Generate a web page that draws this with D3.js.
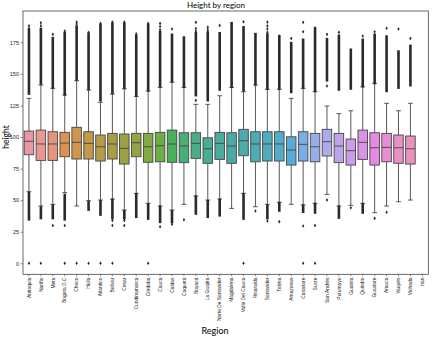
<!DOCTYPE html>
<html>
<head>
<meta charset="utf-8">
<script src="https://cdn.jsdelivr.net/npm/d3@7"></script>
<style>
  body { margin: 0; background: #fff; }
  svg { display: block; }
</style>
</head>
<body>
<svg width="433" height="337"></svg>
<script>
// categories on the x axis (last one has no data)
var regions = ["Antioquia", "Nariño", "Meta", "Bogota D.C", "Choco", "Huila", "Atlantico", "Bolivar",
  "Cesar", "Cundinamarca", "Córdoba", "Cauca", "Caldas", "Caquetá", "Boyacá", "La Guajira",
  "Norte De Santander", "Magdalena", "Valle Del Cauca", "Risaralda", "Santander", "Tolima",
  "Amazonas", "Casanare", "Sucre", "San Andrés", "Putumayo", "Guainía", "Quindío", "Guaviare",
  "Arauca", "Vaupés", "Vichada", "nan"];

// box statistics, one per region
var q1 = [86.0, 81.5, 81.5, 84.4, 82.6, 82.6, 81.0, 82.6, 78.6, 84.4, 80.0, 80.4, 80.0, 79.7, 83.1, 79.2,
  82.3, 79.2, 85.2, 80.4, 81.0, 81.0, 77.8, 81.0, 80.4, 85.0, 79.7, 77.8, 82.3, 77.8, 80.4, 79.2, 78.6, null];
var median = [96.6, 94.5, 94.5, 95.2, 95.8, 95.0, 92.3, 94.5, 91.0, 95.5, 92.3, 93.1, 94.5, 92.9, 95.0, 90.7,
  95.0, 92.9, 97.1, 94.5, 94.5, 94.5, 89.7, 94.2, 92.3, 96.3, 92.9, 89.2, 95.8, 91.5, 91.8, 91.5, 90.7, null];
var q3 = [104.7, 105.5, 104.2, 103.7, 107.7, 104.2, 101.6, 102.9, 102.4, 102.9, 102.9, 103.7, 105.5, 103.4, 103.4, 99.4,
  103.7, 103.4, 106.1, 104.2, 104.2, 104.2, 100.2, 104.2, 102.9, 106.1, 102.9, 98.4, 105.5, 103.4, 102.9, 101.6, 100.8, null];
var whiskerLow = [56.7, 45.4, 46.7, 56.0, 45.4, 49.6, 50.1, 50.9, 42.2, 55.4, 47.5, 45.4, 42.2, 46.7, 53.3, 50.1,
  50.9, 43.5, 55.4, 44.8, 46.7, 48.3, 46.7, 46.2, 47.5, 54.6, 45.4, 45.9, 47.5, 40.1, 45.4, 48.8, 50.1, null];
var whiskerHigh = [130.6, 141.2, 138.6, 133.3, 144.6, 137.2, 127.5, 134.0, 138.2, 132.2, 136.4, 139.3, 143.5, 139.3, 125.9, 125.9,
  132.7, 139.3, 135.9, 141.2, 137.8, 137.8, 130.6, 138.6, 135.9, 124.5, 118.5, 120.8, 139.8, 142.5, 126.7, 120.8, 126.7, null];

// dense runs of outliers above the whiskers [from, to]
var upperRuns = [[134.6, 184.7], [142.5, 185.3], [139.3, 178.1], [134.0, 182.0], [145.7, 187.3], [138.2, 181.5],
  [129.3, 188.5], [135.1, 189.5], [139.3, 189.5], [133.0, 180.0], [137.2, 188.5], [140.4, 183.0], [144.3, 180.8],
  [140.0, 178.6], [133.3, 182.0], [129.3, 182.0], [137.8, 182.0], [140.0, 190.0], [137.2, 186.7], [142.0, 181.3],
  [138.6, 181.0], [138.6, 179.4], [135.9, 174.2], [139.3, 176.8], [136.7, 186.1], [145.1, 177.3], [137.8, 180.0],
  [138.6, 168.9], [140.4, 176.8], [143.0, 180.8], [136.7, 179.4], [139.3, 167.5], [141.2, 172.0], null];
// single outliers above the whiskers
var upperDots = [[186, 188], [188, 190.5], [181.3], [184], [189.5, 191], [183], [190], [191], [191], [181.8],
  [190], [185, 187.5, 190], [185.5], [], [129, 184, 186, 190.8], [183.5, 185, 187], [188.4], [], [191.3], [],
  [183, 185.5, 188, 191], [180], [178.1], [183.4, 190.8], [], [140.4, 181.3], [182.9], [], [180], [183.4],
  [186.1], [185.5], [178.1], []];

// dense runs of outliers below the whiskers
var lowerRuns = [[35.0, 55.5], [36.0, 44.0], [36.0, 45.5], [35.0, 54.0], null, [42.7, 48.5], [38.8, 49.0],
  [36.0, 50.0], [36.0, 41.0], [37.0, 54.5], [35.6, 46.5], [33.0, 44.5], [33.0, 41.0], null, [39.6, 52.5],
  [37.0, 49.0], [38.2, 50.0], null, [35.6, 54.5], null, [36.0, 45.5], [42.0, 47.5], null, [41.0, 45.5],
  [40.4, 46.8], null, [36.4, 44.5], null, [40.4, 46.5], null, null, null, null, null];
// single outliers below the whiskers
var lowerDots = [[0], [0], [30], [30, 0], [0], [0], [0], [34, 30, 0], [34, 30], [], [0], [29], [31], [34.5],
  [], [], [], [], [0], [41.4], [33.5], [33], [], [29.5, 0], [30, 0], [50.1], [], [44], [], [35.6], [40.4],
  [], [], []];

var yTicks = [0, 25, 50, 75, 100, 125, 150, 175];

// seaborn style husl palette
var M = [[3.2406, -1.5372, -0.4986], [-0.9689, 1.8758, 0.0415], [0.0557, -0.2040, 1.0570]];

function maxChroma(L, H) {
    var hrad = H * Math.PI / 180, sinH = Math.sin(hrad), cosH = Math.cos(hrad);
    var sub1 = Math.pow(L + 16, 3) / 1560896;
    var sub2 = sub1 > 0.008856 ? sub1 : L / 903.3;
    var result = Infinity;
    M.forEach(function (r) {
        var tp = (0.99915 * r[0] + 1.05122 * r[1] + 1.14460 * r[2]) * sub2;
        var rbottom = 0.86330 * r[2] - 0.17266 * r[1];
        var lbottom = 0.12949 * r[2] - 0.38848 * r[0];
        var bt = (rbottom * sinH + lbottom * cosH) * sub2;
        [0, 1].forEach(function (t) {
            var C = L * (tp - 1.05122 * t) / (bt + 0.17266 * sinH * t);
            if (C > 0 && C < result) result = C;
        });
    });
    return result;
}

function huslToRgb(H, S, L) {
    var C = maxChroma(L, H) / 100 * S;
    var hrad = H * Math.PI / 180;
    var U = Math.cos(hrad) * C, V = Math.sin(hrad) * C;
    var t = (L + 16) / 116;
    var varY = Math.pow(t, 3) > 0.008856 ? Math.pow(t, 3) : (116 * t - 16) / 903.3;
    var varU = U / (13 * L) + 0.19784, varV = V / (13 * L) + 0.46834;
    var Y = varY;
    var X = -(9 * Y * varU) / ((varU - 4) * varV - varU * varV);
    var Z = (9 * Y - 15 * varV * Y - varV * X) / (3 * varV);
    var rgb = M.map(function (r) {
        var c = r[0] * X + r[1] * Y + r[2] * Z;
        c = c <= 0.0031308 ? 12.92 * c : 1.055 * Math.pow(c, 1 / 2.4) - 0.055;
        return Math.max(0, Math.min(1, c)) * 255;
    });
    return d3.rgb(rgb[0], rgb[1], rgb[2]);
}

var nCat = regions.length;
var colors = d3.range(nCat).map(function (i) {
    var h = ((i / nCat + 0.01) % 1) * 359;
    var c = d3.hsl(huslToRgb(h, 0.9 * 99, 0.7 * 99));
    c.s *= 0.75;
    return c.formatHex();
});
var lum = d3.min(colors, function (c) { return d3.hsl(c).l; }) * 0.6;
var gray = d3.rgb(lum * 255, lum * 255, lum * 255).formatHex();

var svg = d3.select("svg");
var plotL = 23, plotR = 428.3, plotT = 11, plotB = 274.3;

var x = d3.scaleBand().domain(regions).range([plotL, plotR]);
var y = d3.scaleLinear().domain([-8.7, 199.8]).range([plotB, plotT]);

var bw = x.bandwidth() * 0.8;
var capW = bw * 0.5;

var rows = regions.map(function (r, i) {
    return {name: r, i: i, q1: q1[i], med: median[i], q3: q3[i], lo: whiskerLow[i], hi: whiskerHigh[i],
        up: upperRuns[i], upDots: upperDots[i], down: lowerRuns[i], downDots: lowerDots[i]};
}).filter(function (d) { return d.q1 != null; });

var g = svg.append("g");

function cx(d) { return x(d.name) + x.bandwidth() / 2; }

// whiskers
g.selectAll("line.wlo").data(rows).enter().append("line")
    .attr("x1", cx).attr("x2", cx)
    .attr("y1", function (d) { return y(d.q1); }).attr("y2", function (d) { return y(d.lo); })
    .style("stroke", gray).style("stroke-width", 0.9);
g.selectAll("line.whi").data(rows).enter().append("line")
    .attr("x1", cx).attr("x2", cx)
    .attr("y1", function (d) { return y(d.q3); }).attr("y2", function (d) { return y(d.hi); })
    .style("stroke", gray).style("stroke-width", 0.9);
// caps
g.selectAll("line.clo").data(rows).enter().append("line")
    .attr("x1", function (d) { return cx(d) - capW / 2; }).attr("x2", function (d) { return cx(d) + capW / 2; })
    .attr("y1", function (d) { return y(d.lo); }).attr("y2", function (d) { return y(d.lo); })
    .style("stroke", gray).style("stroke-width", 0.9);
g.selectAll("line.chi").data(rows).enter().append("line")
    .attr("x1", function (d) { return cx(d) - capW / 2; }).attr("x2", function (d) { return cx(d) + capW / 2; })
    .attr("y1", function (d) { return y(d.hi); }).attr("y2", function (d) { return y(d.hi); })
    .style("stroke", gray).style("stroke-width", 0.9);

// boxes
g.selectAll("rect.box").data(rows).enter().append("rect")
    .attr("x", function (d) { return cx(d) - bw / 2; })
    .attr("y", function (d) { return y(d.q3); })
    .attr("width", bw)
    .attr("height", function (d) { return y(d.q1) - y(d.q3); })
    .style("fill", function (d) { return colors[d.i]; })
    .style("stroke", gray).style("stroke-width", 0.9);
g.selectAll("line.med").data(rows).enter().append("line")
    .attr("x1", function (d) { return cx(d) - bw / 2; }).attr("x2", function (d) { return cx(d) + bw / 2; })
    .attr("y1", function (d) { return y(d.med); }).attr("y2", function (d) { return y(d.med); })
    .style("stroke", gray).style("stroke-width", 0.9);

// outlier runs (overlapping diamonds look like a solid bar)
var flierColor = "#2a2a2a";
var runs = [];
rows.forEach(function (d) {
    if (d.up) runs.push({d: d, r: d.up});
    if (d.down) runs.push({d: d, r: d.down});
});
g.selectAll("rect.run").data(runs).enter().append("rect")
    .attr("x", function (e) { return cx(e.d) - 1.3; })
    .attr("y", function (e) { return y(e.r[1]) - 1.5; })
    .attr("width", 2.6)
    .attr("height", function (e) { return y(e.r[0]) - y(e.r[1]) + 3; })
    .style("fill", flierColor);

var dots = [];
rows.forEach(function (d) {
    d.upDots.concat(d.downDots).forEach(function (v) { dots.push({d: d, v: v}); });
});
g.selectAll("path.dot").data(dots).enter().append("path")
    .attr("transform", function (e) { return "translate(" + cx(e.d) + "," + y(e.v) + ")"; })
    .attr("d", "M0,-1.8L1.2,0L0,1.8L-1.2,0Z")
    .style("fill", flierColor);

// frame
svg.append("rect").attr("x", plotL).attr("y", plotT)
    .attr("width", plotR - plotL).attr("height", plotB - plotT)
    .style("fill", "none").style("stroke", "#444").style("stroke-width", 0.8);

// y axis
var yAxis = svg.append("g").attr("transform", "translate(" + plotL + ",0)")
    .call(d3.axisLeft(y).tickValues(yTicks).tickSize(2.5).tickPadding(1.5));
yAxis.select(".domain").remove();
yAxis.selectAll("line").style("stroke", "#444").style("stroke-width", 0.6);
yAxis.selectAll("text").style("font-family", "Liberation Sans, Arial, sans-serif")
    .style("font-size", "5.5px").style("fill", "#222");

// x axis
var xAxis = svg.append("g").attr("transform", "translate(0," + plotB + ")")
    .call(d3.axisBottom(x).tickSize(2).tickPadding(1.5));
xAxis.select(".domain").remove();
xAxis.selectAll("line").style("stroke", "#444").style("stroke-width", 0.6);
xAxis.selectAll("text")
    .attr("transform", "rotate(-90)")
    .attr("x", -3.3).attr("y", 0).attr("dy", "0.35em")
    .style("text-anchor", "end")
    .style("font-family", "Liberation Sans, Arial, sans-serif")
    .style("font-size", "4.9px").style("fill", "#222");

// titles
svg.append("text").attr("x", 216).attr("y", 8)
    .style("text-anchor", "middle").style("font-family", "Lato, sans-serif")
    .style("font-size", "8px").style("fill", "#000").text("Height by region");
svg.append("text").attr("x", 215).attr("y", 334)
    .style("text-anchor", "middle").style("font-family", "Lato, sans-serif")
    .style("font-size", "9px").style("fill", "#000").text("Region");
svg.append("text").attr("transform", "translate(8.5,137) rotate(-90)")
    .style("text-anchor", "middle").style("font-family", "Lato, sans-serif")
    .style("font-size", "8.5px").style("fill", "#000").text("height");
</script>
</body>
</html>
